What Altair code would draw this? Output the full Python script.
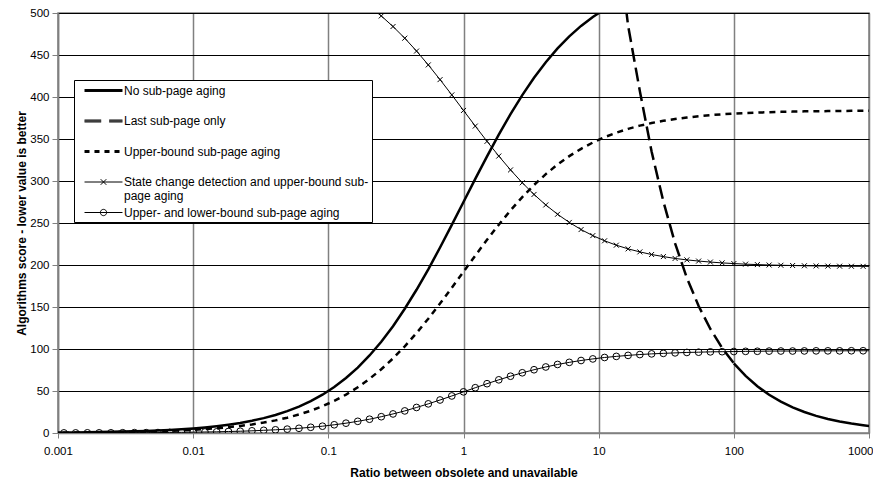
import altair as alt
import pandas as pd

# x positions of the plotted points (ratio between obsolete and unavailable)
x_ratio = [0.000905, 0.001106, 0.001351, 0.001650, 0.002017, 0.002464, 0.003010, 0.003677, 0.004493, 0.005489, 0.006706, 0.008193,
           0.01, 0.01222, 0.01493, 0.01824, 0.02228, 0.02722, 0.03325, 0.04063, 0.04964, 0.06064, 0.07409, 0.09051,
           0.1106, 0.1351, 0.1651, 0.2017, 0.2464, 0.3010, 0.3677, 0.4493, 0.5489, 0.6706, 0.8193,
           1.0, 1.222, 1.493, 1.824, 2.228, 2.722, 3.325, 4.063, 4.964, 6.064, 7.409, 9.051,
           11.06, 13.51, 16.51, 20.17, 24.64, 30.10, 36.77, 44.93, 54.89, 67.06, 81.93,
           100.0, 122.2, 149.3, 182.4, 222.8, 272.2, 332.5, 406.3, 496.4, 606.4, 740.9, 905.1, 1106.0]

no_aging = [0.5, 0.6, 0.7, 0.9, 1.1, 1.4, 1.7, 2.0, 2.5, 3.0, 3.7, 4.5,
            5.4, 6.6, 8.1, 9.9, 12.0, 14.6, 17.7, 21.5, 26.0, 31.4, 37.9, 45.6,
            54.8, 65.5, 77.9, 92.3, 108.7, 127.2, 147.9, 170.5, 194.9, 220.8, 247.7,
            275.0, 302.5, 329.4, 355.2, 379.6, 402.2, 422.8, 441.4, 457.8, 472.1, 484.6, 495.3,
            504.4, 512.1, 518.6] + [None] * 21

last_only = [None] * 48 + [600, 485, 407, 335, 275.7, 225.7, 184.7, 151.2, 123.8, 101.3, 83.0,
                           67.9, 55.6, 45.5, 37.3, 30.5, 25.0, 20.4, 16.7, 13.7, 11.2, 9.2, 7.5]

upper_bound = [0.3, 0.4, 0.5, 0.6, 0.8, 0.9, 1.2, 1.4, 1.7, 2.1, 2.6, 3.1,
               3.8, 4.6, 5.6, 6.9, 8.4, 10.2, 12.4, 15.0, 18.2, 22.0, 26.5, 31.9,
               38.2, 45.7, 54.4, 64.5, 75.9, 88.8, 103.2, 119.0, 136.1, 154.1, 172.9,
               192.0, 211.2, 230.0, 248.0, 265.0, 280.8, 295.2, 308.2, 319.6, 329.6, 338.3, 345.8,
               352.2, 357.5, 362.1, 365.9, 369.0, 371.7, 373.8, 375.6, 377.1, 378.4, 379.4,
               380.2, 380.9, 381.4, 381.9, 382.3, 382.6, 382.9, 383.1, 383.2, 383.4, 383.5, 383.6, 383.7]

state_change = [None] * 26 + [517.3, 507.6, 496.5, 483.9, 470.0, 454.7, 438.2, 420.7, 402.5,
                              384.0, 365.4, 347.2, 329.7, 313.2, 297.9, 284.0, 271.5, 260.4, 250.7, 242.2, 235.0,
                              228.8, 223.6, 219.2, 215.6, 212.5, 210.0, 207.8, 206.1, 204.7, 203.5, 202.5,
                              201.7, 201.0, 200.5, 200.0, 199.7, 199.4, 199.1, 198.9, 198.7, 198.6, 198.5, 198.4, 198.3]

upper_lower = [0.1, 0.1, 0.1, 0.2, 0.2, 0.2, 0.3, 0.4, 0.4, 0.5, 0.7, 0.8,
               1.0, 1.2, 1.4, 1.8, 2.1, 2.6, 3.2, 3.8, 4.6, 5.6, 6.8, 8.1,
               9.8, 11.7, 13.9, 16.4, 19.4, 22.7, 26.3, 30.4, 34.7, 39.3, 44.1,
               49.0, 53.9, 58.7, 63.3, 67.6, 71.7, 75.3, 78.6, 81.6, 84.1, 86.3, 88.2,
               89.9, 91.2, 92.4, 93.4, 94.2, 94.8, 95.4, 95.9, 96.2, 96.6, 96.8,
               97.0, 97.2, 97.3, 97.5, 97.6, 97.6, 97.7, 97.8, 97.8, 97.8, 97.9, 97.9, 97.9]

names = ["No sub-page aging",
         "Last sub-page only",
         "Upper-bound sub-page aging",
         "State change detection and upper-bound sub-page aging",
         "Upper- and lower-bound sub-page aging"]

x_ticks = [0.001, 0.01, 0.1, 1, 10, 100, 1000]
y_ticks = [0, 50, 100, 150, 200, 250, 300, 350, 400, 450, 500]

rows = []
for name, vals in zip(names, [no_aging, last_only, upper_bound, state_change, upper_lower]):
    for xv, yv in zip(x_ratio, vals):
        if yv is not None:
            rows.append({"x": xv, "y": yv, "series": name})
df = pd.DataFrame(rows)

FONT = "Liberation Sans"

x_enc = alt.X("x:Q",
              scale=alt.Scale(type="log", domain=[0.001, 1000]),
              axis=alt.Axis(values=x_ticks, format="~g", grid=True, gridColor="#808080", gridWidth=1.5,
                            domainColor="#808080", domainWidth=1.5, tickColor="#808080", tickSize=5,
                            labelFont=FONT, labelFontSize=11.5, labelColor="black", labelPadding=7,
                            labelFlush=False,
                            labelAlign={"condition": {"test": "datum.value >= 1000", "value": "right"},
                                        "value": "center"},
                            labelOffset={"condition": {"test": "datum.value >= 1000", "value": 4},
                                         "value": 0},
                            titleFont=FONT, titleFontSize=12, titleFontWeight="bold",
                            titleColor="black", titlePadding=11),
              title="Ratio between obsolete and unavailable")
y_enc = alt.Y("y:Q",
              scale=alt.Scale(domain=[0, 500], nice=False, zero=False),
              axis=alt.Axis(values=y_ticks, grid=True, gridColor="black", gridWidth=1,
                            domainColor="#808080", domainWidth=1.5, tickColor="#808080", tickSize=6,
                            labelFont=FONT, labelFontSize=11.5, labelColor="black", labelPadding=3,
                            titleFont=FONT, titleFontSize=12, titleFontWeight="bold",
                            titleColor="black", titlePadding=1),
              title="Algorithms score - lower value is better")

base = alt.Chart(df)


def only(name):
    return base.transform_filter(alt.datum.series == name)


l_no = only(names[0]).mark_line(color="black", strokeWidth=2.5, clip=True).encode(x=x_enc, y=y_enc)
l_last_dash = base.transform_filter((alt.datum.series == names[1]) & (alt.datum.x <= 101)).mark_line(
    color="black", strokeWidth=2.5, strokeDash=[14, 6], clip=True).encode(x=x_enc, y=y_enc)
l_last_tail = base.transform_filter((alt.datum.series == names[1]) & (alt.datum.x >= 99)).mark_line(
    color="black", strokeWidth=2.5, clip=True).encode(x=x_enc, y=y_enc)
l_upper = only(names[2]).mark_line(color="black", strokeWidth=2.5, strokeDash=[6, 5], clip=True).encode(x=x_enc, y=y_enc)
l_state = only(names[3]).mark_line(color="black", strokeWidth=1, clip=True).encode(x=x_enc, y=y_enc)
p_state = only(names[3]).mark_point(shape="M-1,-1L1,1M-1,1L1,-1", size=25, filled=False, color="black",
                                    strokeWidth=1, opacity=1, clip=True).encode(x=x_enc, y=y_enc)
l_ul = only(names[4]).mark_line(color="black", strokeWidth=1, clip=True).encode(x=x_enc, y=y_enc)
p_ul = only(names[4]).mark_point(shape="circle", size=45, filled=False, color="black",
                                 strokeWidth=1, opacity=1, clip=True).encode(x=x_enc, y=y_enc)


def thick(segs):
    # draw each horizontal segment three times (1px apart) to get a 3px thick stroke
    out = ""
    for dy in (-0.14, 0, 0.14):
        for a, b in segs:
            out += "M%s,%sH%s" % (a, dy, b)
    return out


legend_paths = [
    thick([(-2.71, 2.71)]),
    thick([(-2.71, -0.33), (0.81, 2.71)]),
    thick([(-2.71, -2.0), (-1.29, -0.57), (0.14, 0.86), (1.57, 2.29)]),
    "M-2.71,0H2.71M-0.4,-0.4L0.4,0.4M-0.4,0.4L0.4,-0.4",
    "M-2.71,0H2.71M-0.45,0A0.45,0.45,0,1,0,0.45,0A0.45,0.45,0,1,0,-0.45,0",
]

legend = alt.Legend(
    title=None, orient="none", legendX=16, legendY=67, direction="vertical", columns=1,
    symbolSize=196, symbolOffset=19, labelOffset=13, padding=3, rowPadding=2.5, gridAlign="all",
    strokeColor="black", fillColor="white",
    labelFont=FONT, labelFontSize=12, labelColor="black", labelLimit=400,
    labelExpr="datum.label == '%s' ? ['State change detection and upper-bound sub-', 'page aging'] : datum.label" % names[3],
    symbolStrokeColor="black", symbolFillColor="transparent", symbolOpacity=1, symbolStrokeWidth=1,
)

legend_layer = base.transform_filter(alt.datum.y < -1).mark_point(filled=False, color="black").encode(
    x=x_enc, y=y_enc,
    shape=alt.Shape("series:N", scale=alt.Scale(domain=names, range=legend_paths), legend=legend),
)

chart = alt.layer(
    l_no, l_last_dash, l_last_tail, l_upper, l_state, p_state, l_ul, p_ul, legend_layer
).properties(
    width=811, height=420,
    autosize=alt.AutoSizeParams(type="none"),
    padding={"left": 50, "top": 5, "right": 4, "bottom": 47},
    background="white",
).configure_view(stroke="#808080", strokeWidth=1.5)

chart.save("out.html", embed_options={"renderer": "svg", "actions": False})
